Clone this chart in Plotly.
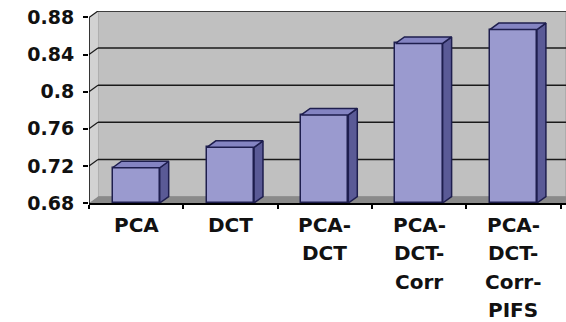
import plotly.graph_objects as go

# Recognition scores per method
categories = ["PCA", "DCT", "PCA-DCT", "PCA-DCT-Corr", "PCA-DCT-Corr-PIFS"]
scores = [0.718, 0.740, 0.775, 0.852, 0.867]

# Value axis ticks
y_ticks = [0.68, 0.72, 0.76, 0.80, 0.84, 0.88]
y_tick_text = ["0.68", "0.72", "0.76", "0.8", "0.84", "0.88"]

# Pseudo-3D geometry (axis units)
BASE = 0.68
BAR_W = 0.5
DX = 0.095      # depth offset along x
DY = 0.007      # depth offset along y
X_MIN, X_MAX = -0.5, 4.558
Y_MAX = 0.887

FRONT = "#9a9acf"
SIDE = "#5a5a96"
TOP = "#8484c2"
EDGE = "#1e1e4e"
WALL = "#c0c0c0"
SIDE_WALL = "#d2d2d2"
FLOOR = "#8a8a8a"
GRID = "#1a1a1a"
FONT = "DejaVu Sans"

n = len(categories)
xs = list(range(n))

fig = go.Figure()

# Front faces of the columns
fig.add_trace(go.Bar(
    x=xs, y=[v - BASE for v in scores], base=BASE, width=BAR_W,
    marker=dict(color=FRONT, line=dict(color=EDGE, width=1.5)),
    hoverinfo="skip", showlegend=False,
))

# Right-hand side faces and top faces
side_x, side_y, top_x, top_y = [], [], [], []
for x, v in zip(xs, scores):
    r = x + BAR_W / 2
    l = x - BAR_W / 2
    side_x += [r, r, r + DX, r + DX, r, None]
    side_y += [BASE, v, v + DY, BASE + DY, BASE, None]
    top_x += [l, r, r + DX, l + DX, l, None]
    top_y += [v, v, v + DY, v + DY, v, None]

fig.add_trace(go.Scatter(
    x=side_x, y=side_y, mode="lines", fill="toself", fillcolor=SIDE,
    line=dict(color=EDGE, width=1.5), hoverinfo="skip", showlegend=False,
))
fig.add_trace(go.Scatter(
    x=top_x, y=top_y, mode="lines", fill="toself", fillcolor=TOP,
    line=dict(color=EDGE, width=1.5), hoverinfo="skip", showlegend=False,
))

shapes = []
# Back wall
shapes.append(dict(type="rect", layer="below", x0=X_MIN + DX, x1=X_MAX,
                   y0=BASE + DY, y1=Y_MAX, fillcolor=WALL,
                   line=dict(color="#9a9a9a", width=1)))
# Left side wall
shapes.append(dict(type="path", layer="below",
                   path=f"M {X_MIN},{BASE} L {X_MIN},{y_ticks[-1]} "
                        f"L {X_MIN + DX},{Y_MAX} L {X_MIN + DX},{BASE + DY} Z",
                   fillcolor=SIDE_WALL, line=dict(width=0)))
# Floor
shapes.append(dict(type="path", layer="below",
                   path=f"M {X_MIN},{BASE} L {X_MAX},{BASE} "
                        f"L {X_MAX},{BASE + DY} L {X_MIN + DX},{BASE + DY} Z",
                   fillcolor=FLOOR, line=dict(width=0)))
# Gridlines on back wall and side wall
for t in y_ticks[1:]:
    shapes.append(dict(type="line", layer="below", x0=X_MIN + DX, x1=X_MAX,
                       y0=t + DY, y1=t + DY, line=dict(color=GRID, width=1.5)))
    shapes.append(dict(type="line", layer="below", x0=X_MIN, x1=X_MIN + DX,
                       y0=t, y1=t + DY, line=dict(color=GRID, width=1.2)))
# Value axis line on the front plane
shapes.append(dict(type="line", layer="above", x0=X_MIN, x1=X_MIN,
                   y0=BASE, y1=y_ticks[-1], line=dict(color="black", width=1.5)))

# Multi-line category labels, broken after each hyphen
annotations = []
LINE_PITCH = 28.3
for x, cat in zip(xs, categories):
    parts = cat.split("-")
    lines = [p + "-" for p in parts[:-1]] + [parts[-1]]
    for i, txt in enumerate(lines):
        annotations.append(dict(
            x=x, xref="x", y=0, yref="paper", yanchor="middle", xanchor="center",
            yshift=-22 - i * LINE_PITCH, text=txt, showarrow=False,
            font=dict(family=FONT, size=20, color="#111111", weight="bold"),
        ))

fig.update_layout(
    width=566, height=322,
    margin=dict(l=89, r=0, t=11, b=119, pad=0),
    paper_bgcolor="white", plot_bgcolor="white",
    shapes=shapes, annotations=annotations,
    bargap=0, showlegend=False, hovermode=False,
    xaxis=dict(range=[X_MIN, X_MAX], showgrid=False, zeroline=False,
               tickvals=[i - 0.5 for i in range(n + 1)],
               ticktext=[""] * (n + 1), ticks="outside", ticklen=4,
               tickcolor="black", tickwidth=1.5,
               showline=True, linecolor="black", linewidth=1.5),
    yaxis=dict(range=[BASE, Y_MAX], showgrid=False, zeroline=False,
               tickvals=y_ticks, ticktext=y_tick_text, ticks="outside",
               ticklen=5, tickcolor="black", tickwidth=1.5,
               showline=False, ticklabelstandoff=5,
               tickfont=dict(family=FONT, size=19, color="#111111",
                             weight="bold")),
)

fig.write_html("out.html", config={"displayModeBar": False})
